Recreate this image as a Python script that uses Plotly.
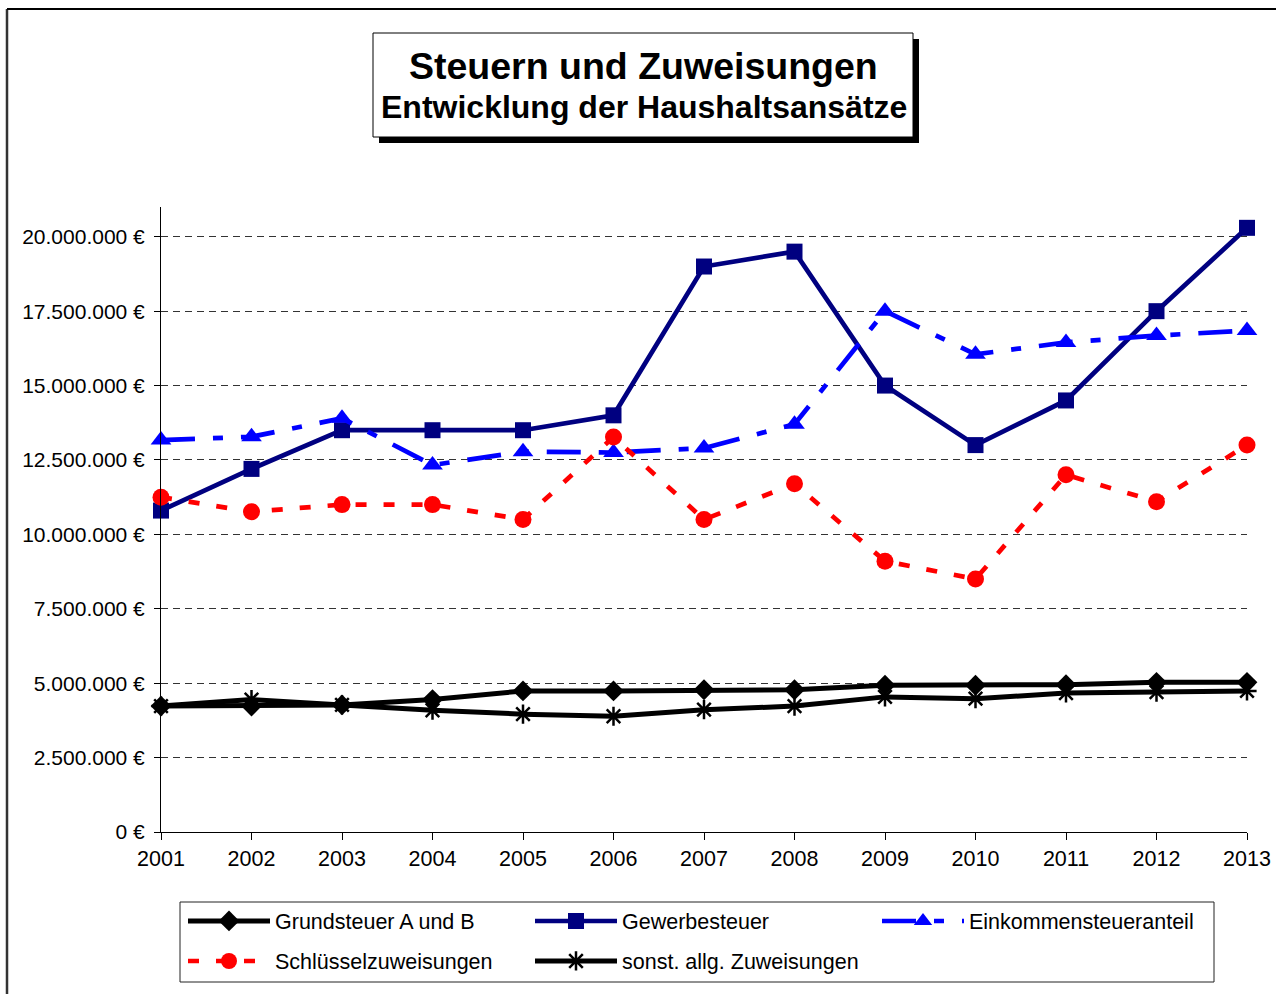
import plotly.graph_objects as go

years = [2001, 2002, 2003, 2004, 2005, 2006, 2007, 2008, 2009, 2010, 2011, 2012, 2013]
grundsteuer = [4.23, 4.23, 4.27, 4.45, 4.74, 4.74, 4.78, 4.78, 4.93, 4.93, 4.95, 5.03, 5.03]
gewerbesteuer = [10.8, 12.2, 13.5, 13.5, 13.5, 14.0, 19.0, 19.5, 15.0, 13.0, 14.5, 17.5, 20.3]
einkommen = [13.17, 13.28, 13.9, 12.33, 12.78, 12.75, 12.9, 13.7, 17.5, 16.05, 16.45, 16.68, 16.85]
schluessel = [11.25, 10.76, 11.0, 11.0, 10.5, 13.27, 10.5, 11.7, 9.1, 8.5, 12.0, 11.1, 13.0]
sonst = [4.23, 4.45, 4.27, 4.09, 3.96, 3.89, 4.11, 4.23, 4.54, 4.48, 4.67, 4.70, 4.74]

names = ["Grundsteuer A und B", "Gewerbesteuer", "Einkommensteueranteil",
         "Schlüsselzuweisungen", "sonst. allg. Zuweisungen"]
title_1 = "Steuern und Zuweisungen"
title_2 = "Entwicklung der Haushaltsansätze"

M = 1_000_000
FONT = "Liberation Sans, Arial, Helvetica, sans-serif"

W, H = 1276, 994
L, R, T, B = 161, 1247, 207, 832


def px(x):
    return (x - L) / (R - L)


def py(y):
    return (B - y) / (B - T)


fig = go.Figure()

fig.add_trace(go.Scatter(
    x=years, y=[v * M for v in grundsteuer], name=names[0], mode="lines+markers",
    line=dict(color="#000000", width=5),
    marker=dict(symbol="diamond", size=16, color="#000000"),
    cliponaxis=False, legend="legend"))
fig.add_trace(go.Scatter(
    x=years, y=[v * M for v in gewerbesteuer], name=names[1], mode="lines+markers",
    line=dict(color="#000080", width=4.7),
    marker=dict(symbol="square", size=16, color="#000080"),
    cliponaxis=False, legend="legend"))
fig.add_trace(go.Scatter(
    x=years, y=[v * M for v in einkommen], name=names[2], mode="lines+markers",
    line=dict(color="#0000FF", width=4.7, dash="34px,18px,10px,18px"),
    marker=dict(symbol="triangle-up", size=18, color="#0000FF"),
    cliponaxis=False, legend="legend"))
fig.add_trace(go.Scatter(
    x=years, y=[v * M for v in schluessel], name=names[3], mode="lines+markers",
    line=dict(color="#FF0000", width=4.7, dash="11px,17px"),
    marker=dict(symbol="circle", size=17, color="#FF0000"),
    cliponaxis=False, legend="legend2"))
fig.add_trace(go.Scatter(
    x=years, y=[v * M for v in sonst], name=names[4], mode="lines+markers",
    line=dict(color="#000000", width=5),
    marker=dict(symbol="asterisk-open", size=16, color="#000000",
                line=dict(color="#000000", width=2.5)),
    cliponaxis=False, legend="legend2"))

shapes = [
    # outer chart frame (left + top)
    dict(type="line", xref="paper", yref="paper", x0=px(7), x1=px(7), y0=py(9), y1=py(1000),
         line=dict(color="#333333", width=2.5)),
    dict(type="line", xref="paper", yref="paper", x0=px(7), x1=px(1290), y0=py(9), y1=py(9),
         line=dict(color="#000000", width=2)),
    # title box shadow + box
    dict(type="rect", xref="paper", yref="paper", x0=px(379), x1=px(919), y0=py(39), y1=py(143),
         fillcolor="#000000", line=dict(width=0)),
    dict(type="rect", xref="paper", yref="paper", x0=px(373), x1=px(913), y0=py(33), y1=py(137),
         fillcolor="#FFFFFF", line=dict(color="#000000", width=1)),
    # legend frame
    dict(type="rect", xref="paper", yref="paper", x0=px(180), x1=px(1214), y0=py(902), y1=py(982),
         fillcolor="rgba(0,0,0,0)", line=dict(color="#222222", width=1)),
]

annotations = [
    dict(text="<b>" + title_1 + "</b>", xref="paper", yref="paper", x=px(643), y=py(66),
         xanchor="center", yanchor="middle", showarrow=False,
         font=dict(family=FONT, size=37.5, color="#000000")),
    dict(text="<b>" + title_2 + "</b>", xref="paper", yref="paper", x=px(644), y=py(107),
         xanchor="center", yanchor="middle", showarrow=False,
         font=dict(family=FONT, size=32, color="#000000")),
]

legend_common = dict(
    orientation="h", xanchor="left", yanchor="middle",
    borderwidth=0, bgcolor="rgba(0,0,0,0)",
    font=dict(family=FONT, size=21.5, color="#000000"),
    entrywidth=250, entrywidthmode="pixels", itemwidth=82,
    traceorder="normal",
)

fig.update_layout(
    width=W, height=H, autosize=False,
    margin=dict(l=L, r=W - R, t=T, b=H - B, pad=0, autoexpand=False),
    paper_bgcolor="#FFFFFF", plot_bgcolor="#FFFFFF",
    font=dict(family=FONT, size=21, color="#000000"),
    separators=",.",
    showlegend=True,
    legend=dict(x=px(183), y=py(921), **legend_common),
    legend2=dict(x=px(183), y=py(961), **legend_common),
    shapes=shapes,
    annotations=annotations,
    xaxis=dict(
        range=[2001, 2013], tickmode="array", tickvals=years, ticktext=[str(y) for y in years],
        showgrid=False, zeroline=False, showline=True, linecolor="#000000", linewidth=1,
        ticks="outside", ticklen=7, tickcolor="#000000", tickwidth=1, automargin=False,
        tickfont=dict(family=FONT, size=21.5, color="#000000"),
    ),
    yaxis=dict(
        range=[0, 21 * M], tick0=0, dtick=2.5 * M, tickformat=",d", ticksuffix=" €",
        showgrid=True, gridcolor="#333333", gridwidth=1, griddash="7px,5px",
        zeroline=False, showline=True, linecolor="#000000", linewidth=1,
        ticks="outside", ticklen=6, tickcolor="#000000", tickwidth=1, automargin=False,
        ticklabelstandoff=5,
        tickfont=dict(family=FONT, size=21, color="#000000"),
    ),
)

fig.write_html(
    "out.html",
    config={"displayModeBar": False},
    post_script="document.body.style.margin='0';document.body.style.overflow='hidden';"
                "document.documentElement.style.overflow='hidden';",
)
